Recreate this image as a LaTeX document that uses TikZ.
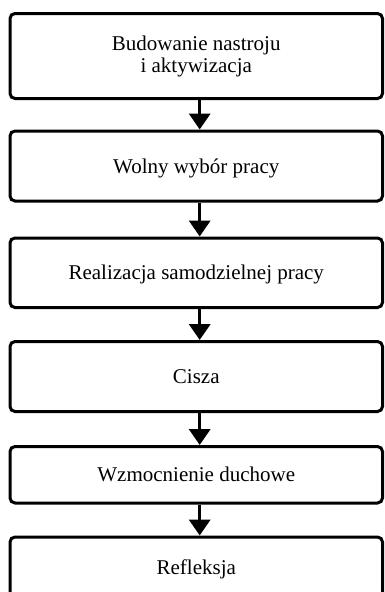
\documentclass[tikz,border=0pt]{standalone}
\usepackage{fontspec}
\setmainfont{Liberation Serif}
\usetikzlibrary{arrows.meta}
\tikzset{
  box/.style={draw=black, line width=3pt, rounded corners=5pt, minimum width=372.5pt,
    inner sep=0pt, font=\fontsize{21}{22}\selectfont, text height=14pt, text depth=0pt},
  box2l/.style={box, align=center, text height=, text depth=},
  arr/.style={line width=3.5pt, -{Triangle[width=21pt,length=16pt]}}
}
\begin{document}
\begin{tikzpicture}[x=1pt,y=-1pt]
\useasboundingbox (0,0) rectangle (384,592);
\coordinate (ax) at (199.7,0);
\node[box2l, minimum height=85pt] (b1) at (196.25,56) {Budowanie nastroju\\i aktywizacja};
\node[box, minimum height=70pt] (b2) at (196.25,166) {Wolny wybór pracy};
\node[box, minimum height=69.5pt] (b3) at (196.25,272.75) {Realizacja samodzielnej pracy};
\node[box, minimum height=70pt] (b4) at (196.25,376.5) {Cisza};
\node[box, minimum height=56.5pt] (b5) at (196.25,474.75) {Wzmocnienie duchowe};
\node[box, minimum height=60pt] (b6) at (196.25,567) {Refleksja};
\draw[arr] (b1.south -| ax) -- (b2.north -| ax);
\draw[arr] (b2.south -| ax) -- (b3.north -| ax);
\draw[arr] (b3.south -| ax) -- (b4.north -| ax);
\draw[arr] (b4.south -| ax) -- (b5.north -| ax);
\draw[arr] (b5.south -| ax) -- (b6.north -| ax);
\end{tikzpicture}
\end{document}
